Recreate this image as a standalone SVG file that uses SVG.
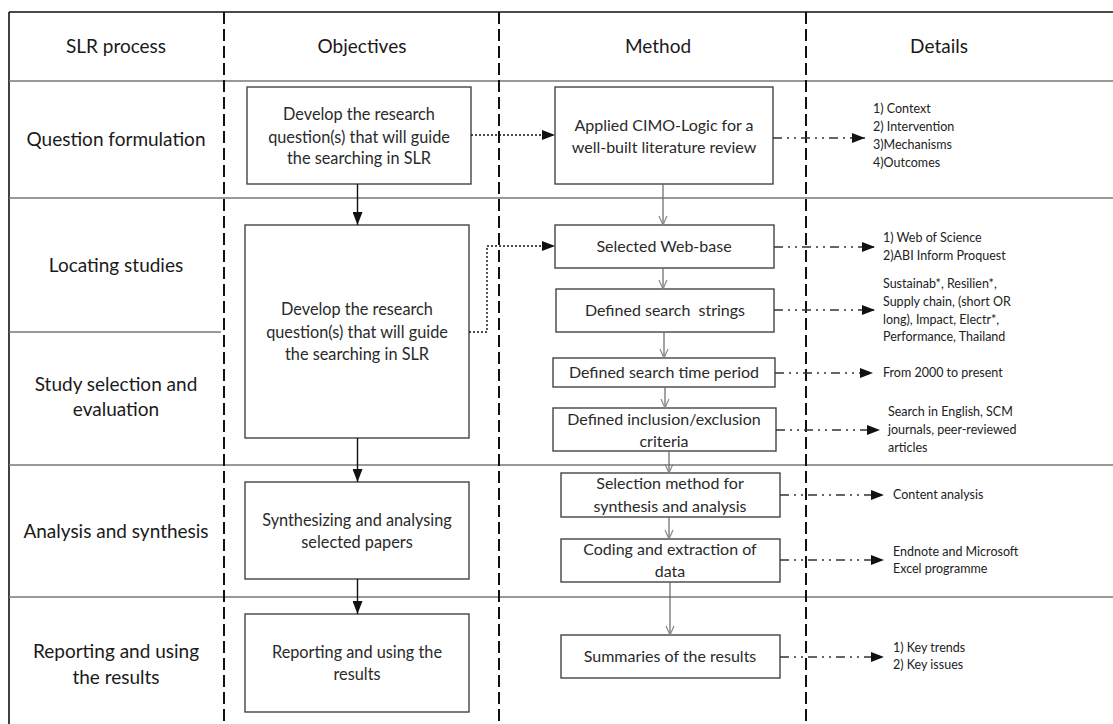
<svg xmlns="http://www.w3.org/2000/svg" width="1113" height="724" viewBox="0 0 1113 724">
<style>
  .bg{fill:#ffffff}
  .frame{stroke:#111;stroke-width:1.6;fill:none}
  .row{stroke:#777;stroke-width:1.6;fill:none}
  .lane{stroke:#111;stroke-width:2;stroke-dasharray:12 5;fill:none}
  .box{fill:#fff;stroke:#444;stroke-width:1.4}
  .h{font-family:Lato,"Liberation Sans",sans-serif;font-size:19px;fill:#1a1a1a;text-anchor:middle}
  .t{font-family:Lato,"Liberation Sans",sans-serif;font-size:16.3px;fill:#2a2a2a;text-anchor:middle}
  .m{font-family:Lato,"Liberation Sans",sans-serif;font-size:16px;fill:#2a2a2a;text-anchor:middle}
  .d{font-family:Lato,"Liberation Sans",sans-serif;font-size:12.5px;fill:#222}
  .solid{stroke:#111;stroke-width:1.4;fill:none}
  .thin{stroke:#666;stroke-width:1.2;fill:none}
  .dot{stroke:#111;stroke-width:1.4;stroke-dasharray:2 2;fill:none}
  .dd{stroke:#333;stroke-width:1.4;stroke-dasharray:9 5 2 5 2 5;fill:none}
</style>
<defs>
  <marker id="fill" viewBox="0 0 13 10" refX="13" refY="5" markerWidth="13" markerHeight="10" markerUnits="userSpaceOnUse" orient="auto">
    <path d="M0,0 L13,5 L0,10 Z" fill="#111"/>
  </marker>
  <marker id="open" viewBox="0 0 10 10" refX="10" refY="5" markerWidth="10" markerHeight="10" markerUnits="userSpaceOnUse" orient="auto">
    <path d="M1,1 L10,5 L1,9" fill="none" stroke="#888" stroke-width="1.2"/>
  </marker>
</defs>
<rect class="bg" x="0" y="0" width="1113" height="724"/>

<g id="grid">
  <line class="frame" x1="9" y1="12" x2="1113" y2="12"/>
  <line class="frame" x1="9" y1="12" x2="9" y2="724"/>
  <line class="row" x1="9" y1="81" x2="1113" y2="81"/>
  <line class="row" x1="9" y1="198" x2="1113" y2="198"/>
  <line class="row" x1="9" y1="332" x2="221" y2="332"/>
  <line class="row" x1="9" y1="465" x2="1113" y2="465"/>
  <line class="row" x1="9" y1="597" x2="1113" y2="597"/>
  <line class="lane" x1="224" y1="12" x2="224" y2="724"/>
  <line class="lane" x1="499" y1="12" x2="499" y2="724"/>
  <line class="lane" x1="806" y1="12" x2="806" y2="724"/>
</g>

<g id="headers">
  <text class="h" x="116" y="53">SLR process</text>
  <text class="h" x="362" y="53">Objectives</text>
  <text class="h" x="658" y="53">Method</text>
  <text class="h" x="939" y="53">Details</text>
</g>

<g id="rowlabels">
  <text class="h" x="116" y="146">Question formulation</text>
  <text class="h" x="116" y="272">Locating studies</text>
  <text class="h" x="116" y="391">Study selection and</text>
  <text class="h" x="116" y="416">evaluation</text>
  <text class="h" x="116" y="538">Analysis and synthesis</text>
  <text class="h" x="116" y="658">Reporting and using</text>
  <text class="h" x="116" y="684">the results</text>
</g>

<g id="obj1">
  <rect class="box" x="247" y="87" width="224" height="97"/>
  <text class="t" x="359" y="120">Develop the research</text>
  <text class="t" x="359" y="143">question(s) that will guide</text>
  <text class="t" x="359" y="164">the searching in SLR</text>
</g>
<g id="obj2">
  <rect class="box" x="245" y="225" width="224" height="213"/>
  <text class="t" x="357" y="315">Develop the research</text>
  <text class="t" x="357" y="338">question(s) that will guide</text>
  <text class="t" x="357" y="360">the searching in SLR</text>
</g>
<g id="obj3">
  <rect class="box" x="245" y="482" width="224" height="97"/>
  <text class="t" x="357" y="526">Synthesizing and analysing</text>
  <text class="t" x="357" y="548">selected papers</text>
</g>
<g id="obj4">
  <rect class="box" x="245" y="614" width="224" height="98"/>
  <text class="t" x="357" y="658">Reporting and using the</text>
  <text class="t" x="357" y="680">results</text>
</g>

<g id="m1">
  <rect class="box" x="555" y="87" width="218" height="97"/>
  <text class="m" x="664" y="131">Applied CIMO-Logic for a</text>
  <text class="m" x="664" y="153">well-built literature review</text>
</g>
<g id="m2">
  <rect class="box" x="555" y="225" width="219" height="43"/>
  <text class="m" x="664" y="252">Selected Web-base</text>
</g>
<g id="m3">
  <rect class="box" x="556" y="289" width="218" height="43"/>
  <text class="m" x="665" y="316" xml:space="preserve">Defined search  strings</text>
</g>
<g id="m4">
  <rect class="box" x="553" y="358" width="222" height="29"/>
  <text class="m" x="664" y="378">Defined search time period</text>
</g>
<g id="m5">
  <rect class="box" x="553" y="408" width="223" height="43"/>
  <text class="m" x="664" y="425">Defined inclusion/exclusion</text>
  <text class="m" x="664" y="447">criteria</text>
</g>
<g id="m6">
  <rect class="box" x="561" y="473" width="219" height="44"/>
  <text class="m" x="670" y="489">Selection method for</text>
  <text class="m" x="670" y="512">synthesis and analysis</text>
</g>
<g id="m7">
  <rect class="box" x="561" y="539" width="219" height="43"/>
  <text class="m" x="670" y="555">Coding and extraction of</text>
  <text class="m" x="670" y="577">data</text>
</g>
<g id="m8">
  <rect class="box" x="561" y="635" width="219" height="43"/>
  <text class="m" x="670" y="662">Summaries of the results</text>
</g>

<g id="details">
  <text class="d" x="873" y="113">1) Context</text>
  <text class="d" x="873" y="131">2) Intervention</text>
  <text class="d" x="873" y="149">3)Mechanisms</text>
  <text class="d" x="873" y="167">4)Outcomes</text>
  <text class="d" x="883" y="242">1) Web of Science</text>
  <text class="d" x="883" y="260">2)ABI Inform Proquest</text>
  <text class="d" x="883" y="288">Sustainab*, Resilien*,</text>
  <text class="d" x="883" y="306">Supply chain, (short OR</text>
  <text class="d" x="883" y="324">long), Impact, Electr*,</text>
  <text class="d" x="883" y="341">Performance, Thailand</text>
  <text class="d" x="883" y="377">From 2000 to present</text>
  <text class="d" x="888" y="416">Search in English, SCM</text>
  <text class="d" x="888" y="434">journals, peer-reviewed</text>
  <text class="d" x="888" y="452">articles</text>
  <text class="d" x="893" y="499">Content analysis</text>
  <text class="d" x="893" y="556">Endnote and Microsoft</text>
  <text class="d" x="893" y="573">Excel programme</text>
  <text class="d" x="893" y="652">1) Key trends</text>
  <text class="d" x="893" y="669">2) Key issues</text>
</g>

<g id="connectors">
  <line class="solid" x1="357.5" y1="184" x2="357.5" y2="225" marker-end="url(#fill)"/>
  <line class="solid" x1="357.5" y1="438" x2="357.5" y2="482" marker-end="url(#fill)"/>
  <line class="solid" x1="357.5" y1="579" x2="357.5" y2="614" marker-end="url(#fill)"/>
  <line class="dot" x1="471" y1="135" x2="555" y2="135" marker-end="url(#fill)"/>
  <polyline class="dot" points="469,332 487,332 487,246 555,246" marker-end="url(#fill)"/>
  <line class="thin" x1="663" y1="184" x2="663" y2="225" marker-end="url(#open)"/>
  <line class="thin" x1="663" y1="268" x2="663" y2="289" marker-end="url(#open)"/>
  <line class="thin" x1="664" y1="332" x2="664" y2="358" marker-end="url(#open)"/>
  <line class="thin" x1="665" y1="387" x2="665" y2="408" marker-end="url(#open)"/>
  <line class="thin" x1="669" y1="451" x2="669" y2="473" marker-end="url(#open)"/>
  <line class="thin" x1="669" y1="517" x2="669" y2="539" marker-end="url(#open)"/>
  <line class="thin" x1="670" y1="582" x2="670" y2="635" marker-end="url(#open)"/>
  <line class="dd" x1="773" y1="138" x2="865" y2="138" marker-end="url(#fill)"/>
  <line class="dd" x1="774" y1="247" x2="875" y2="247" marker-end="url(#fill)"/>
  <line class="dd" x1="774" y1="310" x2="875" y2="310" marker-end="url(#fill)"/>
  <line class="dd" x1="775" y1="373" x2="873" y2="373" marker-end="url(#fill)"/>
  <line class="dd" x1="776" y1="430" x2="880" y2="430" marker-end="url(#fill)"/>
  <line class="dd" x1="780" y1="495" x2="884" y2="495" marker-end="url(#fill)"/>
  <line class="dd" x1="780" y1="560" x2="884" y2="560" marker-end="url(#fill)"/>
  <line class="dd" x1="780" y1="657" x2="884" y2="657" marker-end="url(#fill)"/>
</g>
</svg>
